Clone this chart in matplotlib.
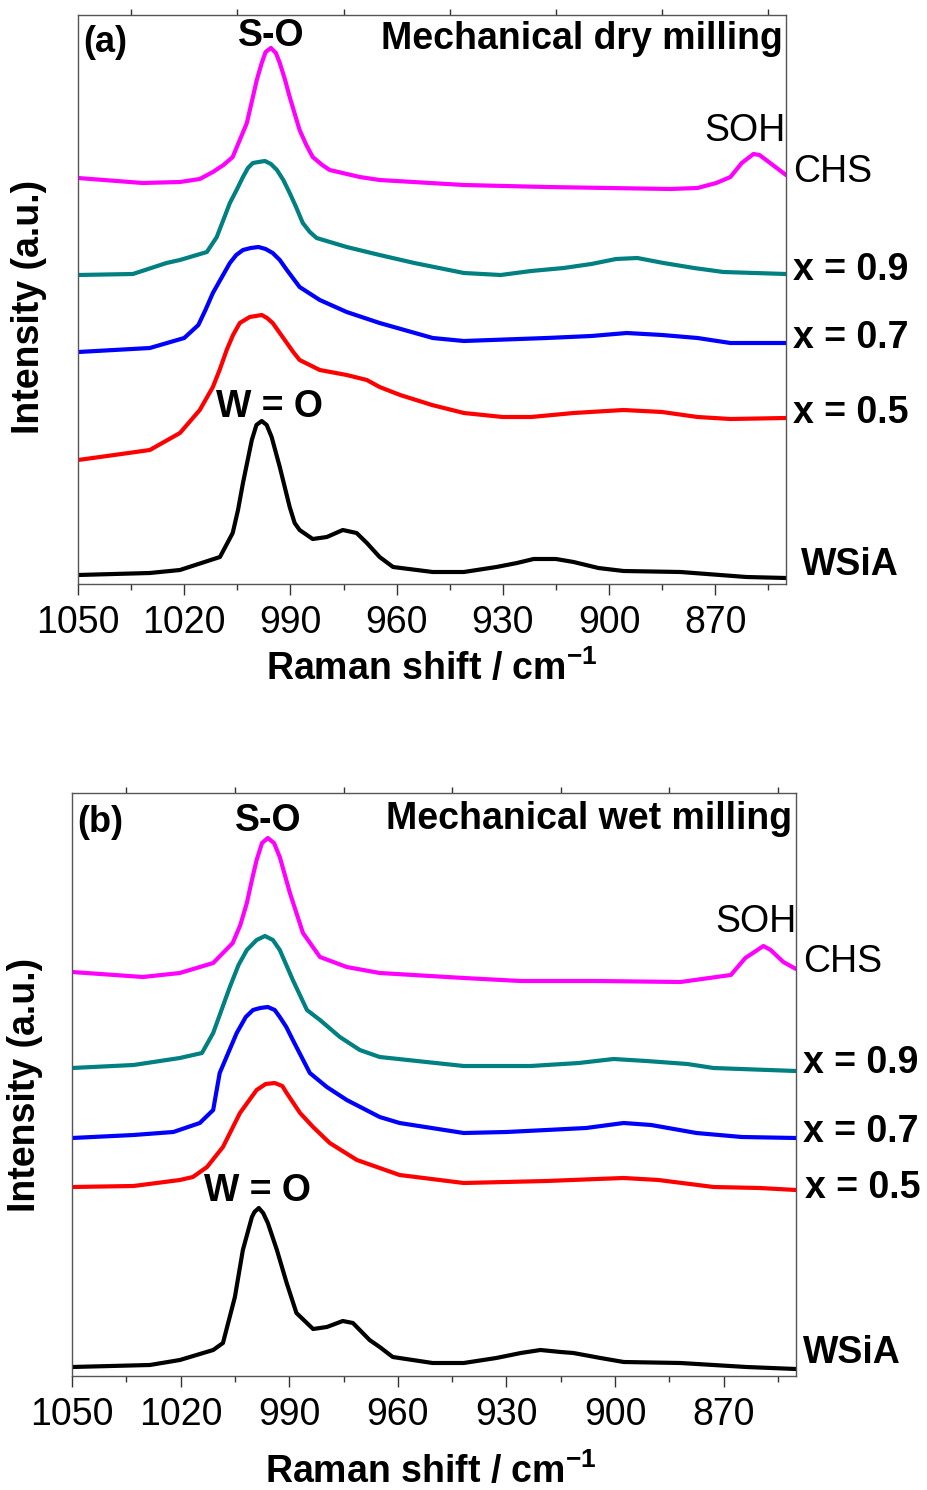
import matplotlib
matplotlib.use('Agg')
import matplotlib.pyplot as plt

plt.rcParams['font.family'] = ['Liberation Sans', 'DejaVu Sans']
plt.rcParams['mathtext.fontset'] = 'custom'
plt.rcParams['mathtext.rm'] = 'Liberation Sans:bold'
plt.rcParams['mathtext.default'] = 'rm'

# ---- (a) mechanical dry milling : wavenumber / intensity (a.u.) ----
a_chs_x = [1050, 1031.7, 1021.2, 1015.6, 1011.9, 1008.9, 1006.3, 1004.3, 1002.3, 1000.6, 999.5, 998.1,
           997, 995.5, 994.1, 993, 991.5, 990.2, 987.4, 985.5, 983.7, 981, 978.9, 970.4, 964.8, 941,
           917.6, 882.7, 875, 869.7, 865.7, 862.5, 859.2, 857.5, 855.6, 850]
a_chs_y = [406, 401, 402, 405, 412, 419, 427, 444, 461, 487, 504, 521,
           532, 536, 531, 521, 504, 487, 454, 439, 427, 419, 414, 407, 404, 399,
           397, 395, 396, 401, 407, 421, 430, 429, 424, 409]

a_x09_x = [1050, 1034.5, 1025, 1021.2, 1013.6, 1010.8, 1007.1, 1005.2, 1003.4, 1002, 1000.6, 999,
           997.2, 995.5, 993.8, 992, 990.2, 988.4, 986.5, 984.5, 982.6, 974.1, 964.8, 955, 941,
           930.6, 922, 912.8, 905, 898, 892, 884.6, 876, 867.7, 850]
a_x09_y = [309, 310, 321, 324, 332, 347, 381, 394, 407, 416, 421, 422,
           423, 420, 414, 404, 391, 377, 361, 352, 346, 337, 329, 321, 311,
           309, 313, 316, 320, 325, 326, 321, 316, 312, 310]

a_x07_x = [1050, 1029.7, 1020, 1016, 1014, 1011.9, 1009.5, 1007.1, 1005.3, 1003.4, 1001.2, 999,
           997, 995, 993, 991, 987.4, 981.7, 974.1, 964.8, 949.8, 941, 917.6, 905, 895, 885,
           875, 865.7, 850]
a_x07_y = [232, 236, 246, 259, 274, 291, 306, 321, 329, 334, 336, 337,
           335, 331, 324, 314, 297, 284, 272, 261, 246, 243, 246, 248, 251, 249,
           246, 241, 241]

a_x05_x = [1050, 1043.8, 1029.7, 1021.2, 1015.6, 1011.9, 1010, 1008, 1006.2, 1004.3, 1001.5, 999.8,
           998.1, 996.6, 995, 993, 991, 989.2, 987.4, 981.7, 974.1, 968.4, 964.8, 959, 950, 941,
           930, 922, 910, 895.9, 885, 875, 865.7, 850]
a_x05_y = [124, 127, 134, 151, 174, 197, 214, 234, 249, 261, 267, 268,
           269, 266, 261, 251, 241, 232, 224, 214, 209, 204, 197, 189, 179, 171,
           167, 167, 171, 174, 172, 167, 165, 166]

a_wsia_x = [1050, 1029.7, 1021.2, 1009.9, 1006.3, 1004.8, 1003.4, 1000.9, 999.6, 998.1, 996.7, 995.3,
            993, 991.6, 990.2, 988.8, 987.4, 983.7, 979.7, 975.2, 971.3, 968.4, 964.8, 961, 949.8,
            941, 931.8, 926, 921.3, 915, 910, 903, 895.9, 879.8, 861.2, 850]
a_wsia_y = [9, 11, 14, 27, 51, 74, 101, 144, 159, 163, 159, 147,
            117, 97, 77, 61, 54, 45, 47, 54, 51, 41, 27, 17, 12,
            12, 17, 21, 25, 25, 22, 16, 13, 12, 7, 6]

# ---- (b) mechanical wet milling ----
b_chs_x = [1050, 1030.4, 1020.2, 1011, 1005.6, 1003.5, 1001.7, 1000.3, 999, 997.5, 995.9, 994.2,
           992.6, 991.2, 989.8, 988, 986.2, 981.5, 974.1, 965, 941.8, 926, 905, 881.9, 868, 864,
           859, 857, 853.5, 850]
b_chs_y = [404, 399, 403, 413, 433, 451, 473, 496, 516, 533, 538, 533,
           519, 501, 483, 463, 443, 419, 409, 403, 398, 395, 395, 394, 401, 418,
           430, 426, 414, 407]

b_x09_x = [1050, 1033, 1020.2, 1014.1, 1011, 1006.4, 1004, 1001.7, 999, 996.7, 994.5, 992.6,
           990.8, 989, 985.1, 981.5, 976, 970.5, 965, 941.8, 923.3, 910, 900.4, 891.3, 880,
           872.8, 850]
b_x09_y = [308, 311, 318, 323, 343, 389, 411, 426, 436, 440, 436, 426,
           411, 396, 366, 356, 339, 326, 319, 310, 310, 313, 317, 315, 312,
           308, 305]

b_x07_x = [1050, 1033, 1022, 1014.7, 1011, 1009.2, 1004.5, 1002, 1000, 998, 995.9, 994,
           992.6, 990.8, 989, 984.3, 979.6, 974.1, 965, 959.5, 941.8, 930, 918.9, 908, 897.6,
           890, 877.5, 865, 850]
b_x07_y = [238, 241, 244, 253, 266, 303, 343, 359, 366, 368, 369, 366,
           359, 349, 336, 303, 289, 276, 259, 253, 243, 244, 246, 248, 253,
           251, 243, 239, 238]

b_x05_x = [1050, 1033, 1020.2, 1016.6, 1012.7, 1008.3, 1003.6, 1001, 999, 996.5, 994, 991.9,
           990.7, 987, 983.4, 978.8, 971.3, 965, 959.5, 941.8, 918.9, 905, 897.6, 888, 872.8,
           860, 850]
b_x05_y = [189, 190, 196, 199, 209, 229, 263, 276, 286, 292, 293, 290,
           283, 263, 249, 233, 216, 208, 201, 193, 195, 197, 198, 196, 189,
           188, 186]

b_wsia_x = [1050, 1028.5, 1020.2, 1011, 1008.3, 1005, 1002.8, 1000.3, 999.6, 998.4, 997.2, 995.9,
            993.4, 990.7, 988, 983.4, 979.6, 975.2, 972.4, 967.8, 965, 961.4, 950.4, 941.8, 932.8,
            926, 920.6, 915, 911.5, 904, 897.6, 881.9, 863.7, 850]
b_wsia_y = [9, 11, 16, 26, 33, 79, 126, 159, 164, 168, 163, 153,
            126, 93, 63, 47, 49, 55, 53, 36, 29, 19, 13, 13, 18,
            23, 26, 24, 23, 18, 14, 13, 9, 7]

colors = ['#FF00FF', '#008080', '#0000FF', '#FF0000', '#000000']
major_ticks = [1050, 1020, 990, 960, 930, 900, 870]
minor_ticks = [1035, 1005, 975, 945, 915, 885, 855]

fig = plt.figure(figsize=(9.28, 14.9), dpi=100)
W, H = 928, 1490


def make_axes(left, top, right, bottom):
    return fig.add_axes([left / W, (H - bottom) / H, (right - left) / W, (bottom - top) / H])


def style(ax, ymax):
    ax.set_xlim(1050, 850)
    ax.set_ylim(0, ymax)
    ax.set_xticks(major_ticks)
    ax.set_xticks(minor_ticks, minor=True)
    ax.set_yticks([])
    ax.tick_params(axis='x', which='major', direction='out', length=8, width=1,
                   labelsize=27, pad=7, top=False, color='#333333')
    ax.tick_params(axis='x', which='minor', direction='out', length=4, width=1,
                   top=False, color='#333333')
    for s in ax.spines.values():
        s.set_color('#555555')
        s.set_linewidth(1.0)
    top = ax.secondary_xaxis('top')
    top.set_xticks(minor_ticks)
    top.set_xticklabels([])
    top.tick_params(direction='out', length=4.5, width=1, color='#333333')
    top.spines['top'].set_visible(False)


panels = [
    dict(box=(78, 15, 786, 584), ymax=569, tag='(a)', title='Mechanical dry milling',
         series=[(a_chs_x, a_chs_y), (a_x09_x, a_x09_y), (a_x07_x, a_x07_y),
                 (a_x05_x, a_x05_y), (a_wsia_x, a_wsia_y)],
         tag_y=541, so=(995.5, 548), soh=(861.5, 453), wo=(995.8, 177),
         right=[('CHS', 848, 412, 'normal'), ('x = 0.9', 848, 314, 'bold'),
                ('x = 0.7', 848, 246, 'bold'), ('x = 0.5', 848, 171, 'bold'),
                ('WSiA', 845.7, 19, 'bold')],
         xlab=(0.5, -0.169), ylab=(-0.069, 0.487)),
    dict(box=(72, 793, 796, 1376), ymax=583, tag='(b)', title='Mechanical wet milling',
         series=[(b_chs_x, b_chs_y), (b_x09_x, b_x09_y), (b_x07_x, b_x07_y),
                 (b_x05_x, b_x05_y), (b_wsia_x, b_wsia_y)],
         tag_y=553, so=(995.9, 555), soh=(861.2, 454), wo=(998.7, 185),
         right=[('CHS', 848, 414, 'normal'), ('x = 0.9', 848, 313, 'bold'),
                ('x = 0.7', 848, 244, 'bold'), ('x = 0.5', 847.4, 188, 'bold'),
                ('WSiA', 848, 23, 'bold')],
         xlab=(0.496, -0.184), ylab=(-0.065, 0.499)),
]

for p in panels:
    ax = make_axes(*p['box'])
    for (xs, ys), c in zip(p['series'], colors):
        ax.plot(xs, ys, color=c, lw=3.0, solid_joinstyle='round', solid_capstyle='round')
    style(ax, p['ymax'])

    ax.text(1048.5, p['tag_y'], p['tag'], fontsize=26, fontweight='bold', ha='left', va='center')
    ax.text(p['so'][0], p['so'][1], 'S-O', fontsize=27, fontweight='bold', ha='center', va='center')
    ax.text(851, p['tag_y'] + 4, p['title'], fontsize=27, fontweight='bold', ha='right', va='center')
    ax.text(p['soh'][0], p['soh'][1], 'SOH', fontsize=27, ha='center', va='center')
    ax.text(p['wo'][0], p['wo'][1], 'W = O', fontsize=27, fontweight='bold', ha='center', va='center')
    for label, lx, ly, wt in p['right']:
        ax.text(lx, ly, label, fontsize=27, fontweight=wt, ha='left', va='center')

    ax.set_xlabel('Raman shift / cm$^{-1}$', fontsize=27, fontweight='bold', va='baseline')
    ax.xaxis.set_label_coords(*p['xlab'])
    ax.set_ylabel('Intensity (a.u.)', fontsize=27, fontweight='bold', va='center')
    ax.yaxis.set_label_coords(*p['ylab'])

fig.savefig('out.png', dpi=100)
